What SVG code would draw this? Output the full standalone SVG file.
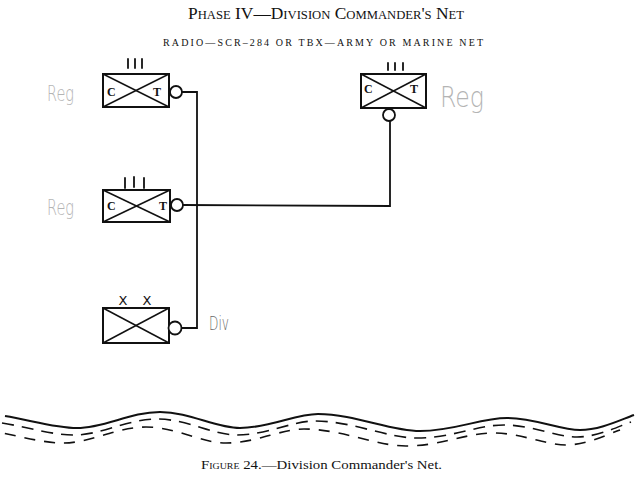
<svg xmlns="http://www.w3.org/2000/svg" width="640" height="482" viewBox="0 0 640 482">
<style>
.box{fill:none;stroke:#111;stroke-width:2}
.diag{stroke:#111;stroke-width:1.5}
.tick{stroke:#111;stroke-width:1.8;stroke-linecap:round}
.conn{fill:none;stroke:#111;stroke-width:1.8}
.circ{fill:#fff;stroke:#111;stroke-width:1.8}
.ct{font-family:"Liberation Serif",serif;font-weight:bold;font-size:12px;fill:#111}
.hand{font-family:"DejaVu Sans",sans-serif;font-weight:200;fill:#b4b4b4}
.serif{font-family:"Liberation Serif",serif;fill:#111}
.wave{fill:none;stroke:#111;stroke-width:2}
.dash1{fill:none;stroke:#111;stroke-width:1.6;stroke-dasharray:12 8}
.dash2{fill:none;stroke:#111;stroke-width:1.6;stroke-dasharray:11 9}
</style>
<defs>
<path id="wv" d="M5,416 C30,420 55,428 77,428 C105,428 130,412 160,412 C190,412 215,428 240,428 C270,428 295,414 318,414 C355,414 390,431 420,431 C455,431 480,418 507,418 C535,418 560,430 580,430 C600,430 620,420 634,415"/>
</defs>

<text class="serif" x="326" y="19" font-size="16.5" text-anchor="middle" style="font-variant:small-caps" textLength="276" lengthAdjust="spacingAndGlyphs">Phase IV—Division Commander's Net</text>
<text class="serif" x="323" y="46" font-size="10" text-anchor="middle" textLength="320" lengthAdjust="spacing">RADIO—SCR–284 OR TBX—ARMY OR MARINE NET</text>

<g id="connectors">
<polyline class="conn" points="182,92 197,92 197,328 182,328"/>
<polyline class="conn" points="183,205 390,206 390,121"/>
</g>

<g id="node-reg1">
<rect class="box" x="103" y="74" width="66" height="33"/>
<line class="diag" x1="103" y1="74" x2="169" y2="107"/>
<line class="diag" x1="103" y1="107" x2="169" y2="74"/>
<line class="tick" x1="128" y1="59" x2="128" y2="68"/>
<line class="tick" x1="135" y1="59" x2="135" y2="68"/>
<line class="tick" x1="142" y1="59" x2="142" y2="68"/>
<text class="ct" x="107" y="96">C</text>
<text class="ct" x="153" y="96">T</text>
<circle class="circ" cx="176" cy="92" r="6"/>
<text class="hand" x="47" y="101" font-size="22" textLength="27" lengthAdjust="spacingAndGlyphs">Reg</text>
</g>

<g id="node-reg2">
<rect class="box" x="103" y="190" width="67" height="32"/>
<line class="diag" x1="103" y1="190" x2="170" y2="222"/>
<line class="diag" x1="103" y1="222" x2="170" y2="190"/>
<line class="tick" x1="125" y1="178" x2="125" y2="188"/>
<line class="tick" x1="134" y1="177" x2="134" y2="187"/>
<line class="tick" x1="144" y1="178" x2="144" y2="188"/>
<text class="ct" x="107" y="210">C</text>
<text class="ct" x="159" y="210">T</text>
<circle class="circ" cx="177" cy="205" r="6"/>
<text class="hand" x="47" y="215" font-size="22" textLength="27" lengthAdjust="spacingAndGlyphs">Reg</text>
</g>

<g id="node-reg3">
<rect class="box" x="361" y="74" width="65" height="34"/>
<line class="diag" x1="361" y1="74" x2="426" y2="108"/>
<line class="diag" x1="361" y1="108" x2="426" y2="74"/>
<line class="tick" x1="388" y1="63" x2="388" y2="70"/>
<line class="tick" x1="395" y1="63" x2="395" y2="70"/>
<line class="tick" x1="403" y1="63" x2="403" y2="70"/>
<text class="ct" x="364" y="93">C</text>
<text class="ct" x="410" y="93">T</text>
<circle class="circ" cx="389" cy="115" r="6"/>
<text class="hand" x="440" y="107" font-size="28" textLength="44" lengthAdjust="spacingAndGlyphs">Reg</text>
</g>

<g id="node-div">
<rect class="box" x="103" y="308" width="66" height="35"/>
<line class="diag" x1="103" y1="308" x2="169" y2="343"/>
<line class="diag" x1="103" y1="343" x2="169" y2="308"/>
<text x="123" y="305" font-family="DejaVu Sans,sans-serif" font-size="13" fill="#111" text-anchor="middle">X</text>
<text x="147" y="305" font-family="DejaVu Sans,sans-serif" font-size="13" fill="#111" text-anchor="middle">X</text>
<circle class="circ" cx="175" cy="328" r="6.5"/>
<text x="209" y="330" font-family="DejaVu Sans,sans-serif" font-size="20" fill="#666" font-weight="300" textLength="20" lengthAdjust="spacingAndGlyphs">Div</text>
</g>

<g id="river">
<use href="#wv" class="wave"/>
<use href="#wv" class="dash1" transform="translate(-3,7)"/>
<use href="#wv" class="dash2" transform="translate(-14,15)" style="stroke-dashoffset:6"/>
</g>

<text class="serif" x="201" y="469" font-size="13.5" textLength="241" lengthAdjust="spacingAndGlyphs"><tspan style="font-variant:small-caps">Figure</tspan> 24.—Division Commander's Net.</text>
</svg>
